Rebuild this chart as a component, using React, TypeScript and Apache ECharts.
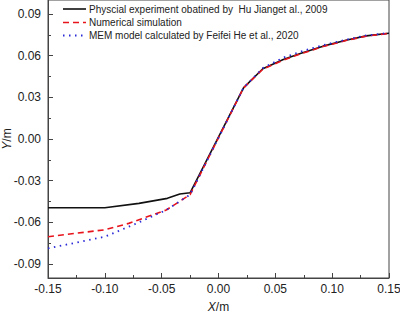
import React, { useEffect, useRef } from "react";
import * as echarts from "echarts";

const expX = [-0.15, -0.1, -0.07, -0.045, -0.034, -0.025, 0.022, 0.039, 0.057, 0.072, 0.092, 0.113, 0.13, 0.15];
const expY = [-0.0495, -0.0495, -0.0463, -0.0427, -0.0396, -0.0387, 0.0368, 0.0505, 0.0572, 0.0615, 0.0668, 0.0712, 0.0742, 0.0761];

const simX = [-0.15, -0.1, -0.079, -0.046, -0.025, 0.022, 0.039, 0.057, 0.072, 0.092, 0.113, 0.13, 0.15];
const simY = [-0.0703, -0.0653, -0.0607, -0.0511, -0.04, 0.0368, 0.0502, 0.0568, 0.0612, 0.0665, 0.071, 0.074, 0.076];

const memX = [-0.15, -0.1, -0.072, -0.046, -0.025, 0.022, 0.039, 0.057, 0.072, 0.092, 0.113, 0.13, 0.15];
const memY = [-0.0787, -0.0703, -0.0607, -0.0511, -0.04, 0.0368, 0.051, 0.0585, 0.0628, 0.0675, 0.0716, 0.0745, 0.0763];

const seriesNames = [
  "Physcial experiment obatined by  Hu Jianget al., 2009",
  "Numerical simulation",
  "MEM model calculated by Feifei He et al., 2020",
];
const seriesColors = ["#111", "#e8141c", "#2a2ad8"];
const seriesDash: any[] = ["solid", [6, 4], [1.5, 4.5]];
const seriesWidth = [1.6, 1.6, 1.8];

const yMajor = [-0.09, -0.06, -0.03, 0, 0.03, 0.06, 0.09];
const yMinor = [-0.075, -0.045, -0.015, 0.015, 0.045, 0.075];

const zip = (xs: number[], ys: number[]) => xs.map((x, i) => [x, ys[i]]);

const FONT = "Liberation Sans, Arial, sans-serif";
const AXIS_COLOR = "#444";

export default function App() {
  const ref = useRef<HTMLDivElement>(null);
  useEffect(() => {
    document.body.style.margin = "0";
    const chart = echarts.init(ref.current!, null, { renderer: "svg" });
    const legendRows = [9, 22.5, 35.5];
    const legendGraphic: any[] = [];
    seriesNames.forEach((name, i) => {
      legendGraphic.push({
        type: "line",
        shape: { x1: 63, y1: legendRows[i], x2: 86, y2: legendRows[i] },
        style: {
          stroke: seriesColors[i],
          lineWidth: seriesWidth[i],
          lineDash: seriesDash[i] === "solid" ? null : seriesDash[i],
        },
        z: 10,
      });
      legendGraphic.push({
        type: "text",
        x: 89,
        y: legendRows[i],
        style: {
          text: name,
          fill: "#222",
          font: `10px ${FONT}`,
          verticalAlign: "middle",
          align: "left",
        },
        z: 10,
      });
    });
    const option: any = {
      animation: false,
      backgroundColor: "#fff",
      textStyle: { fontFamily: FONT },
      grid: {
        left: 48,
        right: 11,
        top: 0,
        bottom: 36,
        containLabel: false,
        outerBoundsMode: "none",
        show: true,
        borderColor: AXIS_COLOR,
        borderWidth: 1,
        backgroundColor: "transparent",
      },
      graphic: legendGraphic,
      xAxis: {
        type: "value",
        min: -0.15,
        max: 0.15,
        interval: 0.05,
        name: "{i|X}/m",
        nameLocation: "middle",
        nameGap: 23,
        nameMoveOverlap: false,
        nameTextStyle: {
          fontSize: 12,
          color: "#222",
          fontFamily: FONT,
          rich: { i: { fontStyle: "italic", fontSize: 12, color: "#222", fontFamily: FONT } },
        },
        axisLine: { show: true, onZero: false, lineStyle: { color: AXIS_COLOR, width: 1 } },
        axisTick: { show: true, inside: true, length: 5, lineStyle: { color: AXIS_COLOR } },
        minorTick: { show: true, splitNumber: 2, length: 3, lineStyle: { color: AXIS_COLOR } },
        splitLine: { show: false },
        minorSplitLine: { show: false },
        axisLabel: {
          fontSize: 12,
          color: "#222",
          margin: 5,
          fontFamily: FONT,
          formatter: (v: number) => v.toFixed(2),
        },
      },
      yAxis: [
        {
          type: "value",
          min: -0.1,
          max: 0.1,
          name: "{i|Y}/m",
          nameLocation: "middle",
          nameGap: 35,
          nameMoveOverlap: false,
          nameRotate: 90,
          nameTextStyle: {
            fontSize: 12,
            color: "#222",
            fontFamily: FONT,
            rich: { i: { fontStyle: "italic", fontSize: 12, color: "#222", fontFamily: FONT } },
          },
          axisLine: { show: true, onZero: false, lineStyle: { color: AXIS_COLOR, width: 1 } },
          axisTick: { show: true, inside: true, length: 5, customValues: yMajor, lineStyle: { color: AXIS_COLOR } },
          splitLine: { show: false },
          axisLabel: {
            fontSize: 12,
            color: "#222",
            margin: 7,
            fontFamily: FONT,
            customValues: yMajor,
            formatter: (v: number) => v.toFixed(2),
          },
        },
        {
          type: "value",
          min: -0.1,
          max: 0.1,
          position: "left",
          offset: 0,
          axisLine: { show: false, onZero: false },
          axisTick: { show: true, inside: true, length: 3, customValues: yMinor, lineStyle: { color: AXIS_COLOR } },
          axisLabel: { show: false },
          splitLine: { show: false },
        },
      ],
      series: seriesNames.map((name, i) => ({
        name,
        type: "line",
        data: [zip(expX, expY), zip(simX, simY), zip(memX, memY)][i],
        showSymbol: false,
        symbol: "none",
        color: seriesColors[i],
        lineStyle: { color: seriesColors[i], width: seriesWidth[i], type: seriesDash[i] },
        z: 3 + i,
      })),
    };
    chart.setOption(option);
    return () => chart.dispose();
  }, []);
  return <div ref={ref} style={{ width: 400, height: 314 }} />;
}
